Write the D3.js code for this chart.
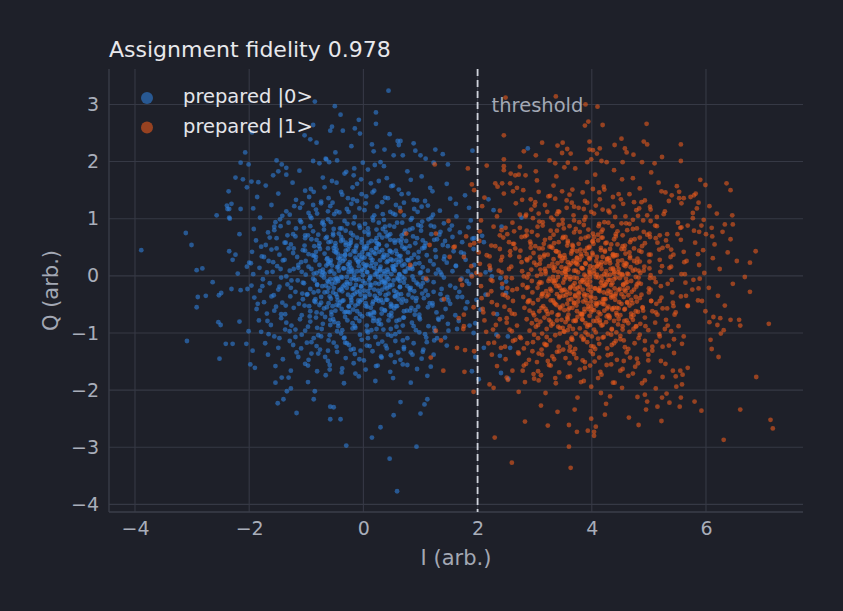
<!DOCTYPE html>
<html>
<head>
<meta charset="utf-8">
<script src="https://cdn.jsdelivr.net/npm/d3@7"></script>
<style>
  html, body { margin: 0; padding: 0; background: #1e2029; }
  svg { display: block; font-family: "DejaVu Sans", sans-serif; }
</style>
</head>
<body>
<div id="chart"></div>
<script>
// tick values
const xTicks = [-4, -2, 0, 2, 4, 6];
const yTicks = [-4, -3, -2, -1, 0, 1, 2, 3];
const threshold = 2;
const seriesNames = ["prepared |0>", "prepared |1>"];
const title = "Assignment fidelity 0.978";

// prepared |0> : isolated points
const zeroTail = [[-3.89,0.45],[-3.11,0.75],[-3.01,0.54],[-2.92,0.10],[-2.82,0.13],[-2.64,-0.11],[-2.90,-0.37],[-2.76,-0.35],[-2.92,-0.55],[-2.53,-0.34],[-2.49,-0.30],[-2.54,-0.81],[-2.50,-0.86],[-3.09,-1.14],[-2.52,-1.45],[-2.41,-1.19],[-2.29,-1.19],[-2.57,1.06],[-2.36,1.48],[-2.31,1.26],[-2.38,1.17],[-2.07,2.16],[-2.15,1.98],[-2.01,1.95],[-2.24,1.72],[-2.11,1.69],[-2.04,1.55],[-1.96,1.65],[-1.84,1.64],[-2.34,1.00],[-2.17,0.73],[-2.24,0.37],[-2.35,0.43],[-2.29,0.28],[-2.20,0.04],[-2.04,0.16],[-2.00,0.23],[-2.31,-0.23],[-2.15,-0.25],[-2.03,-0.23],[-2.17,-0.80],[-2.01,-0.97],[-2.05,-1.19],[-1.98,-1.55],[-1.90,-1.61],[-1.94,-1.31],[-1.50,-2.23],[-1.40,-2.16],[-1.17,-2.40],[-0.58,-2.51],[-0.40,-2.51],[-0.58,-2.29],[-0.52,-2.30],[-0.30,-2.97],[0.15,-2.83],[0.30,-2.65],[0.46,-3.20],[0.93,-2.99],[0.53,-2.44],[1.00,-2.41],[1.07,-2.25],[1.12,-2.16],[0.65,-2.21],[-0.87,-2.16],[-0.85,-2.02],[-1.34,-2.02],[-1.27,-1.97],[-1.54,-1.87],[-1.43,-1.78],[0.59,-3.77],[0.44,3.24],[-0.50,2.97],[-0.85,3.05],[-0.40,2.82],[0.22,2.86],[0.22,2.66],[-0.08,2.73],[-0.15,2.58],[-0.06,2.49],[-0.36,2.54],[-0.55,2.61],[-0.58,2.54],[-0.88,2.64],[-1.03,2.46],[-0.93,2.39],[-0.82,2.33],[-1.95,2.51],[0.46,2.48],[0.60,2.36],[0.65,2.36],[0.62,2.29],[0.15,2.30],[0.18,2.18],[0.37,2.21],[0.53,2.11],[0.69,2.11],[0.88,2.32],[0.91,2.19],[1.00,2.11],[1.09,2.05],[1.26,2.21],[1.39,2.13],[1.91,2.19],[1.48,1.95],[1.23,1.98],[-0.49,2.16],[-0.66,2.05],[-0.46,2.02],[-0.60,1.99],[-0.21,2.27],[-0.16,1.88],[-0.30,1.82],[-0.17,1.76],[-0.01,1.98],[0.20,1.94],[0.36,1.92],[0.30,1.99],[-0.88,2.01],[-0.65,2.04],[-0.77,1.97],[-1.52,2.02],[-1.43,1.95],[-1.35,1.89],[-1.35,1.77],[-1.49,1.83],[-2.35,1.17],[-2.39,1.23],[-2.35,1.02],[-2.15,1.17],
  [2.88,2.23],[2.19,1.34],[2.28,1.15],[2.77,1.02],[2.42,0.86],[2.08,0.70],[2.11,0.59],[1.94,0.66],[2.22,0.10],[2.25,-0.01],[2.14,0.06],[2.40,-0.04],[2.50,-0.10],[2.43,-0.21],[2.50,-0.30],[2.14,-0.33],[1.98,-0.42],[2.05,-0.59],[1.96,-0.83],[1.93,-1.00],[2.34,-0.67],[2.33,-1.03],[2.53,-1.06],[2.57,-1.26],[2.11,-1.26],[1.96,-1.42],[2.39,-1.40],[2.41,-1.70],[2.54,-1.80],[2.02,-1.81],[1.90,-1.67]];

// prepared |0> : main cloud, estimated
const zeroCore = [[-1.12,1.84],[-0.71,1.72],[-0.33,1.79],[0.08,1.86],[0.41,1.71],[0.77,1.83],[1.02,1.74],[-1.58,1.76],
  [-1.71,1.58],[-1.24,1.63],[-0.92,1.52],[-0.55,1.66],[-0.19,1.55],[0.13,1.62],[0.49,1.57],[0.83,1.68],[1.17,1.54],[1.46,1.61],[-0.04,1.69],[0.62,1.51],
  [-1.86,1.38],[-1.49,1.44],[-1.18,1.33],[-0.87,1.47],[-0.61,1.36],[-0.37,1.42],[-0.11,1.31],[0.16,1.46],[0.38,1.37],[0.67,1.43],[0.94,1.32],[1.21,1.48],[1.52,1.35],[1.78,1.41],[-0.74,1.30],[0.05,1.39],
  [-1.93,1.18],[-1.61,1.24],[-1.35,1.13],[-1.07,1.27],[-0.83,1.16],[-0.58,1.22],[-0.42,1.11],[-0.21,1.26],[0.02,1.15],[0.24,1.21],[0.47,1.12],[0.71,1.28],[0.89,1.17],[1.13,1.23],[1.34,1.14],[1.62,1.26],[1.85,1.19],[-0.96,1.10],[0.57,1.24],[-0.29,1.17],
  [-1.81,1.02],[-1.54,0.94],[-1.29,1.07],[-1.11,0.97],[-0.93,1.04],[-0.72,0.92],[-0.51,1.08],[-0.33,0.96],[-0.15,1.03],[0.03,0.91],[0.19,1.06],[0.36,0.98],[0.52,1.09],[0.68,0.93],[0.85,1.01],[1.03,0.95],[1.22,1.07],[1.41,0.92],[1.63,1.04],[1.88,0.97],[-0.62,0.99],[0.27,0.93],[-1.42,1.05],[1.14,0.99],
  [-1.92,0.82],[-1.67,0.76],[-1.45,0.87],[-1.23,0.73],[-1.04,0.84],[-0.88,0.78],[-0.69,0.89],[-0.53,0.71],[-0.38,0.83],[-0.22,0.75],[-0.07,0.88],[0.09,0.72],[0.23,0.81],[0.39,0.77],[0.54,0.86],[0.71,0.74],[0.86,0.83],[1.01,0.79],[1.18,0.88],[1.33,0.72],[1.51,0.81],[1.69,0.76],[1.84,0.85],[-0.31,0.79],[0.47,0.73],[-0.97,0.71],[0.96,0.89],[-1.56,0.80],
  [-1.88,0.62],[-1.71,0.54],[-1.52,0.66],[-1.36,0.58],[-1.19,0.69],[-1.03,0.53],[-0.91,0.64],[-0.77,0.57],[-0.64,0.68],[-0.49,0.52],[-0.36,0.63],[-0.24,0.56],[-0.11,0.67],[0.01,0.51],[0.14,0.61],[0.27,0.55],[0.41,0.69],[0.55,0.58],[0.67,0.64],[0.81,0.52],[0.94,0.66],[1.09,0.57],[1.24,0.63],[1.39,0.54],[1.56,0.68],[1.73,0.59],[1.91,0.65],[-0.57,0.60],[0.33,0.67],[-1.27,0.55],[0.75,0.61],[-0.03,0.58],
  [-1.95,0.42],[-1.78,0.34],[-1.61,0.46],[-1.47,0.37],[-1.31,0.48],[-1.16,0.33],[-1.02,0.44],[-0.89,0.36],[-0.76,0.47],[-0.63,0.31],[-0.51,0.43],[-0.39,0.35],[-0.27,0.46],[-0.14,0.32],[-0.02,0.41],[0.11,0.37],[0.22,0.49],[0.34,0.33],[0.46,0.44],[0.59,0.38],[0.72,0.47],[0.84,0.31],[0.97,0.42],[1.11,0.36],[1.26,0.45],[1.42,0.34],[1.58,0.43],[1.76,0.39],[1.93,0.47],[-0.83,0.42],[0.05,0.48],[0.63,0.34],[-0.45,0.39],[1.03,0.48],[-1.23,0.40],[0.28,0.42],
  [-1.97,0.22],[-1.82,0.14],[-1.66,0.26],[-1.51,0.17],[-1.38,0.28],[-1.22,0.12],[-1.09,0.24],[-0.96,0.16],[-0.84,0.27],[-0.71,0.11],[-0.58,0.23],[-0.46,0.15],[-0.33,0.29],[-0.21,0.13],[-0.09,0.25],[0.04,0.18],[0.16,0.28],[0.29,0.12],[0.41,0.24],[0.53,0.16],[0.66,0.27],[0.78,0.13],[0.91,0.21],[1.04,0.15],[1.17,0.26],[1.31,0.11],[1.46,0.23],[1.62,0.17],[1.79,0.28],[1.94,0.19],[-0.65,0.18],[0.22,0.21],[-0.27,0.20],[0.72,0.20],[-1.14,0.19],[0.48,0.29],[-0.02,0.11],[1.23,0.20],
  [-1.93,0.03],[-1.76,-0.06],[-1.59,0.07],[-1.44,-0.03],[-1.29,0.09],[-1.15,-0.08],[-1.01,0.02],[-0.88,-0.05],[-0.76,0.08],[-0.63,-0.09],[-0.51,0.04],[-0.39,-0.02],[-0.26,0.06],[-0.13,-0.07],[-0.01,0.01],[0.12,-0.04],[0.24,0.08],[0.37,-0.09],[0.49,0.03],[0.61,-0.06],[0.74,0.07],[0.86,-0.01],[0.99,0.05],[1.12,-0.08],[1.27,0.04],[1.41,-0.03],[1.56,0.08],[1.72,-0.05],[1.89,0.02],[-0.45,-0.06],[0.31,0.00],[-0.82,0.05],[0.68,-0.02],[-0.19,0.09],[1.05,-0.04],[-1.35,-0.01],[0.06,0.07],[0.55,0.09],[-0.69,-0.03],[1.35,0.06],
  [-1.96,-0.17],[-1.81,-0.26],[-1.64,-0.13],[-1.49,-0.24],[-1.33,-0.15],[-1.19,-0.28],[-1.06,-0.12],[-0.93,-0.23],[-0.81,-0.16],[-0.68,-0.29],[-0.55,-0.14],[-0.42,-0.25],[-0.29,-0.11],[-0.17,-0.22],[-0.04,-0.18],[0.08,-0.27],[0.21,-0.13],[0.33,-0.24],[0.46,-0.16],[0.58,-0.29],[0.71,-0.12],[0.83,-0.21],[0.96,-0.15],[1.09,-0.26],[1.23,-0.11],[1.37,-0.23],[1.52,-0.17],[1.68,-0.28],[1.85,-0.14],[-0.36,-0.19],[0.14,-0.16],[-0.87,-0.29],[0.64,-0.20],[-0.11,-0.28],[1.01,-0.19],[-1.27,-0.21],[0.39,-0.12],[-0.61,-0.21],[0.89,-0.27],[-0.23,-0.14],
  [-1.91,-0.38],[-1.74,-0.46],[-1.57,-0.34],[-1.42,-0.47],[-1.28,-0.36],[-1.13,-0.49],[-0.99,-0.33],[-0.86,-0.44],[-0.74,-0.37],[-0.61,-0.48],[-0.48,-0.32],[-0.35,-0.43],[-0.22,-0.38],[-0.09,-0.49],[0.03,-0.35],[0.17,-0.45],[0.29,-0.31],[0.42,-0.42],[0.55,-0.36],[0.67,-0.47],[0.79,-0.33],[0.92,-0.44],[1.06,-0.39],[1.21,-0.48],[1.35,-0.32],[1.49,-0.43],[1.65,-0.37],[1.82,-0.46],[-0.57,-0.40],[0.24,-0.39],[-1.06,-0.41],[0.48,-0.49],[-0.15,-0.31],[0.86,-0.38],[-0.41,-0.47],[1.13,-0.34],[-0.03,-0.42],[0.62,-0.41],
  [-1.87,-0.58],[-1.69,-0.66],[-1.53,-0.54],[-1.37,-0.67],[-1.22,-0.56],[-1.08,-0.69],[-0.95,-0.53],[-0.82,-0.64],[-0.69,-0.57],[-0.56,-0.68],[-0.43,-0.52],[-0.31,-0.63],[-0.18,-0.59],[-0.06,-0.67],[0.07,-0.54],[0.19,-0.65],[0.32,-0.58],[0.45,-0.69],[0.57,-0.53],[0.71,-0.62],[0.84,-0.56],[0.98,-0.68],[1.13,-0.55],[1.28,-0.64],[1.44,-0.58],[1.61,-0.69],[1.79,-0.57],[-0.25,-0.54],[0.38,-0.61],[-0.77,-0.51],[0.13,-0.69],[0.91,-0.60],[-0.49,-0.61],[1.21,-0.52],
  [-1.83,-0.78],[-1.62,-0.86],[-1.44,-0.74],[-1.26,-0.87],[-1.11,-0.76],[-0.97,-0.89],[-0.83,-0.73],[-0.71,-0.84],[-0.58,-0.77],[-0.44,-0.88],[-0.32,-0.72],[-0.19,-0.83],[-0.07,-0.79],[0.06,-0.87],[0.18,-0.74],[0.31,-0.85],[0.44,-0.78],[0.58,-0.89],[0.71,-0.73],[0.85,-0.82],[0.99,-0.76],[1.14,-0.88],[1.31,-0.75],[1.48,-0.84],[1.67,-0.79],[1.86,-0.87],[-0.51,-0.81],[0.24,-0.79],[-0.93,-0.80],[0.63,-0.77],
  [-1.79,-0.98],[-1.56,-1.06],[-1.37,-0.94],[-1.19,-1.07],[-1.02,-0.96],[-0.87,-1.09],[-0.73,-0.93],[-0.59,-1.04],[-0.46,-0.97],[-0.33,-1.08],[-0.19,-0.92],[-0.06,-1.03],[0.08,-0.99],[0.21,-1.07],[0.35,-0.94],[0.49,-1.05],[0.63,-0.98],[0.77,-1.09],[0.92,-0.95],[1.08,-1.02],[1.25,-0.97],[1.43,-1.08],[1.64,-0.93],[-0.39,-1.01],[0.14,-0.95],[0.56,-1.02],
  [-1.72,-1.18],[-1.49,-1.26],[-1.29,-1.14],[-1.09,-1.27],[-0.91,-1.16],[-0.76,-1.29],[-0.61,-1.13],[-0.47,-1.24],[-0.32,-1.17],[-0.17,-1.28],[-0.03,-1.12],[0.11,-1.23],[0.26,-1.19],[0.41,-1.27],[0.56,-1.14],[0.71,-1.25],[0.88,-1.18],[1.05,-1.29],[1.24,-1.13],[1.46,-1.22],[-0.25,-1.21],[0.33,-1.15],
  [-1.67,-1.38],[-1.41,-1.46],[-1.17,-1.34],[-0.96,-1.47],[-0.79,-1.36],[-0.62,-1.49],[-0.46,-1.33],[-0.31,-1.44],[-0.15,-1.37],[0.01,-1.48],[0.16,-1.32],[0.32,-1.43],[0.48,-1.39],[0.65,-1.47],[0.83,-1.34],[1.02,-1.45],[1.23,-1.38],[-0.05,-1.31],
  [-1.54,-1.58],[-1.27,-1.66],[-1.02,-1.54],[-0.81,-1.67],[-0.59,-1.56],[-0.38,-1.69],[-0.17,-1.53],[0.04,-1.64],[0.25,-1.57],[0.47,-1.68],[0.69,-1.55],[0.94,-1.63],[1.18,-1.59],
  [-1.31,-1.78],[-0.97,-1.86],[-0.66,-1.74],[-0.34,-1.88],[-0.08,-1.76],[0.21,-1.84],[0.52,-1.79],[0.83,-1.87],[1.12,-1.75]];

// prepared |0> : ring between one and two units out, estimated
const zeroRing = [[1.62,0.18],[1.48,0.52],[1.71,0.41],[1.35,0.77],[1.55,0.88],[1.19,1.02],[1.29,0.64],[1.08,1.31],[0.95,1.12],[0.79,1.44],[0.64,1.19],[0.52,1.58],[0.34,1.08],[0.19,1.49],[0.04,1.27],[-0.11,1.61],[-0.26,1.12],[-0.39,1.47],[-0.54,1.28],[-0.68,1.55],[-0.81,1.09],[-0.95,1.38],[-1.09,0.94],[-1.21,1.22],[-1.33,0.71],[-1.46,0.99],[-1.52,0.48],[-1.64,0.67],[-1.58,0.24],[-1.74,0.33],[-1.45,0.12],[-1.69,0.06],
  [1.83,0.08],[1.41,0.29],[1.24,0.86],[1.02,1.21],[0.88,1.33],[0.71,1.06],[0.43,1.36],[0.27,1.66],[-0.03,1.43],[-0.18,1.34],[-0.47,1.63],[-0.62,1.13],[-0.88,1.24],[-1.02,1.49],[-1.18,0.83],[-1.38,0.58],[-1.56,0.86],[-1.79,0.51],
  [1.61,-0.21],[1.52,-0.49],[1.73,-0.37],[1.38,-0.72],[1.49,-0.96],[1.24,-0.91],[1.11,-1.16],[0.98,-0.99],[0.86,-1.38],[0.69,-1.13],[0.55,-1.51],[0.39,-1.22],[0.22,-1.58],[0.08,-1.09],[-0.07,-1.46],[-0.22,-1.29],[-0.37,-1.62],[-0.52,-1.17],[-0.67,-1.42],[-0.82,-1.23],[-0.97,-1.57],[-1.08,-1.03],[-1.23,-1.21],[-1.35,-0.82],[-1.47,-1.09],[-1.56,-0.61],[-1.68,-0.79],[-1.61,-0.36],[-1.77,-0.18],[-1.47,-0.19],[-1.85,-0.49],
  [1.81,-0.09],[1.37,-0.42],[1.29,-1.09],[1.04,-1.33],[0.77,-1.56],[0.61,-1.34],[0.31,-1.41],[-0.14,-1.71],[-0.29,-1.18],[-0.59,-1.64],[-0.74,-1.06],[-0.91,-1.36],[-1.14,-1.42],[-1.29,-0.97],[-1.44,-0.67],[-1.66,-1.02]];

// prepared |0> : dense centre, estimated
const zeroDense = [[-0.93,0.87],[-0.71,0.95],[-0.52,0.82],[-0.28,0.91],[-0.06,0.84],[0.17,0.97],[0.38,0.86],[0.59,0.93],[0.81,0.81],[-1.02,0.66],[-0.79,0.72],[-0.61,0.59],[-0.43,0.74],[-0.22,0.63],[0.02,0.77],[0.21,0.61],[0.44,0.71],[0.66,0.58],[0.87,0.69],[1.04,0.62],
  [-1.06,0.45],[-0.86,0.52],[-0.68,0.39],[-0.49,0.57],[-0.31,0.44],[-0.12,0.53],[0.08,0.38],[0.27,0.55],[0.47,0.43],[0.68,0.51],[0.89,0.37],[1.07,0.49],
  [-1.01,0.26],[-0.83,0.33],[-0.62,0.21],[-0.44,0.31],[-0.24,0.18],[-0.04,0.29],[0.15,0.23],[0.36,0.32],[0.57,0.19],[0.77,0.28],[0.98,0.22],
  [-1.08,0.07],[-0.91,0.12],[-0.73,0.01],[-0.56,0.09],[-0.35,0.13],[-0.16,0.02],[0.03,0.14],[0.23,0.04],[0.42,0.11],[0.63,0.02],[0.82,0.13],[1.01,0.06],
  [-1.04,-0.13],[-0.85,-0.08],[-0.66,-0.17],[-0.47,-0.04],[-0.28,-0.14],[-0.08,-0.06],[0.11,-0.15],[0.31,-0.07],[0.51,-0.16],[0.72,-0.05],[0.93,-0.12],
  [-0.98,-0.32],[-0.79,-0.27],[-0.59,-0.36],[-0.39,-0.23],[-0.19,-0.34],[0.01,-0.26],[0.20,-0.35],[0.41,-0.22],[0.61,-0.33],[0.82,-0.25],[1.03,-0.31],
  [-1.03,-0.52],[-0.84,-0.46],[-0.64,-0.55],[-0.45,-0.43],[-0.26,-0.53],[-0.06,-0.45],[0.13,-0.56],[0.34,-0.47],[0.54,-0.57],[0.75,-0.44],[0.96,-0.54],
  [-0.94,-0.71],[-0.73,-0.66],[-0.53,-0.76],[-0.33,-0.64],[-0.13,-0.74],[0.08,-0.67],[0.28,-0.77],[0.49,-0.65],[0.70,-0.73],[0.90,-0.68],
  [-0.81,-0.91],[-0.58,-0.86],[-0.37,-0.95],[-0.15,-0.88],[0.06,-0.96],[0.27,-0.84],[0.48,-0.93],[0.69,-0.87],
  [-0.62,0.48],[-0.39,0.61],[-0.14,0.42],[0.09,0.58],[0.33,0.45],[0.54,0.62],[-0.57,0.27],[-0.32,0.36],[-0.09,0.24],[0.18,0.41],[0.43,0.26],[0.65,0.35],[-0.68,0.04],[-0.44,0.16],[-0.21,0.07],[0.06,0.19],[0.29,0.09],[0.51,0.17],[-0.61,-0.11],[-0.37,-0.03],[-0.13,-0.16],[0.12,-0.01],[0.37,-0.12],[0.60,-0.04],[-0.53,-0.29],[-0.29,-0.21],[-0.05,-0.33],[0.19,-0.24],[0.44,-0.31],[0.64,-0.19],[-0.47,-0.51],[-0.21,-0.42],[0.04,-0.53],[0.27,-0.44],[0.50,-0.52],[-0.27,-0.63],[0.12,-0.66],[0.37,-0.60],[-0.02,0.33],[-0.25,0.52],[0.23,0.66],[0.41,-0.02],
  [-1.41,0.27],[-1.36,-0.52],[-1.31,0.93],[-1.26,-0.08],[-1.22,0.48],[-1.19,-0.94],[-1.14,0.14],[-1.11,1.19],[-1.07,-0.31],[-1.02,0.71],[-0.99,-1.17],[-0.96,0.38],[-0.93,-0.62],[-0.91,1.01],[-0.87,0.04],[-0.84,-0.41],[-0.82,0.63],[-0.79,-1.04],[-0.77,0.19],[-0.74,1.27],[-0.72,-0.18],[-0.69,0.81],[-0.67,-0.72],[-0.64,0.29],[-0.62,-1.31],[-0.59,0.07],[-0.57,0.94],[-0.54,-0.53],[-0.52,0.49],[-0.49,-0.12],[-0.47,1.13],[-0.44,-0.83],[-0.42,0.22],[-0.39,0.68],[-0.37,-0.27],[-0.34,-1.09],[-0.32,0.37],[-0.29,-0.02],[-0.27,1.36],[-0.24,-0.64],[-0.22,0.58],[-0.19,-0.23],[-0.17,0.92],[-0.14,-0.91],[-0.12,0.28],[-0.09,-0.43],[-0.07,1.18],[-0.04,0.08],[-0.02,-0.71],[0.01,0.47],[0.03,-0.13],[0.06,-1.22],[0.08,0.83],[0.11,-0.33],[0.13,0.17],[0.16,1.02],[0.18,-0.63],[0.21,0.39],[0.23,-0.93],[0.26,-0.02],[0.28,0.72],[0.31,-0.42],[0.33,1.29],[0.36,0.08],[0.38,-0.19],[0.41,0.53],[0.43,-1.03],[0.46,0.88],[0.48,-0.54],[0.51,0.27],[0.53,-0.08],[0.56,1.07],[0.58,-0.79],[0.61,0.62],[0.63,0.03],[0.66,-0.32],[0.68,0.18],[0.71,-1.28],[0.73,0.79],[0.76,-0.61],[0.78,0.41],[0.81,-0.22],[0.83,0.98],[0.86,0.12],[0.88,-0.88],[0.91,0.57],[0.93,-0.39],[0.96,0.32],[0.98,-0.73],[1.01,0.87],[1.04,-0.13],[1.07,0.52],[1.10,-1.08],[1.13,0.09],[1.16,-0.48],[1.19,0.73],[1.23,-0.28],[1.27,0.33],[1.32,-0.77],[1.37,0.02],[1.43,0.61],[1.47,-0.37],
  [-0.86,0.35],[-0.81,-0.15],[-0.78,0.52],[-0.74,-0.47],[-0.71,0.06],[-0.66,0.66],[-0.63,-0.28],[-0.61,0.25],[-0.56,-0.63],[-0.53,0.74],[-0.51,-0.06],[-0.48,0.41],[-0.46,-0.37],[-0.43,0.09],[-0.41,0.83],[-0.38,-0.58],[-0.36,0.26],[-0.33,-0.16],[-0.31,0.54],[-0.28,-0.78],[-0.26,0.12],[-0.23,0.37],[-0.21,-0.47],[-0.18,0.71],[-0.16,-0.04],[-0.13,0.49],[-0.11,-0.62],[-0.08,0.17],[-0.06,-0.27],[-0.03,0.64],[-0.01,-0.09],[0.02,0.32],[0.04,-0.48],[0.07,0.06],[0.09,0.76],[0.12,-0.21],[0.14,0.45],[0.17,-0.79],[0.19,0.14],[0.22,-0.42],[0.24,0.57],[0.27,-0.14],[0.29,0.27],[0.32,-0.66],[0.34,0.82],[0.37,0.04],[0.39,-0.34],[0.42,0.36],[0.44,-0.06],[0.47,0.63],[0.49,-0.71],[0.52,0.12],[0.54,-0.26],[0.57,0.44],[0.59,-0.53],[0.62,0.24],[0.64,-0.09],[0.67,0.71],[0.69,-0.41],[0.72,0.08],[0.74,0.49],[0.77,-0.18],[0.79,0.27],[0.82,-0.61],[0.85,0.16],[0.88,-0.07],
  [-0.55,0.18],[-0.52,-0.21],[-0.47,0.46],[-0.44,-0.09],[-0.41,0.29],[-0.37,-0.44],[-0.34,0.13],[-0.31,0.58],[-0.27,-0.33],[-0.24,0.24],[-0.21,-0.06],[-0.17,0.43],[-0.14,-0.52],[-0.11,0.08],[-0.07,0.36],[-0.04,-0.19],[0.00,0.21],[0.03,-0.38],[0.06,0.52],[0.10,-0.07],[0.13,0.31],[0.16,-0.49],[0.20,0.02],[0.23,0.48],[0.26,-0.26],[0.30,0.16],[0.33,-0.11],[0.36,0.37],[0.40,-0.42],[0.43,0.07],[0.46,-0.19],[0.50,0.41],[0.53,0.11],[0.56,-0.36],[-0.58,-0.06],[0.58,0.28]];

// prepared |1> : isolated points
const oneTail = [[2.49,3.12],[3.37,3.14],[3.89,3.00],[4.10,2.96],[3.94,2.70],[3.88,2.63],[4.19,2.64],[4.96,2.66],[2.46,2.46],[3.13,2.33],[3.40,2.28],[3.49,2.33],[3.57,2.22],[3.63,2.14],[3.48,2.15],[2.81,2.18],[3.02,2.11],[3.96,2.35],[3.96,2.21],[4.02,2.20],[4.14,2.23],[4.09,2.14],[3.99,2.04],[3.92,1.99],[4.40,2.29],[4.52,2.40],[4.58,2.23],[4.61,2.16],[4.73,2.12],[4.91,2.35],[4.97,2.30],[5.56,2.30],[5.23,2.08],[5.56,2.01],[2.46,2.04],[2.46,1.92],[2.16,1.93],[3.26,2.02],[3.36,1.97],[3.58,1.98],[3.52,1.90],[4.17,2.01],[4.26,1.99],[4.54,1.99],[4.88,1.99],[5.10,1.97],[5.90,1.68],[5.99,1.59],[6.36,1.62],[6.43,1.50],[6.06,1.22],[6.19,1.09],[6.46,1.06],[6.87,0.43],[6.77,0.23],[6.54,0.26],[6.29,0.77],[6.47,0.90],[6.33,0.90],[6.43,0.64],[5.96,0.98],[6.10,0.84],[5.92,0.88],[5.88,0.77],[6.00,0.73],[6.11,0.69],[5.68,0.88],[5.57,0.85],[5.77,1.10],[5.87,1.28],[5.73,1.38],[5.82,1.44],[5.61,1.36],[5.29,1.46],[5.53,1.47],[5.40,1.41],[5.35,1.31],[2.74,1.91],[2.84,1.76],[2.72,1.77],[2.58,1.79],[2.46,1.85],[2.35,1.56],[2.43,1.62],[2.57,1.62],[2.62,1.48],[2.80,1.50],
  [6.68,-0.02],[6.77,-0.28],[6.47,-0.14],[7.10,-0.84],[6.88,-1.77],[6.60,-2.34],[7.13,-2.52],[7.17,-2.67],[6.31,-2.87],[5.92,-2.36],[5.80,-2.20],[6.33,-0.52],[6.22,-1.42],[6.10,-1.28],[6.26,-1.01],[6.08,-1.12],[6.43,-0.77],[6.58,-0.77],[6.60,-0.87],[6.31,-0.95],[6.20,-0.86],[6.06,-0.81],[6.13,-0.72],[6.25,-0.74],[5.68,-1.61],[5.55,-1.66],[5.47,-1.76],[5.59,-1.73],[5.42,-1.66],[5.58,-1.90],[5.48,-1.94],[5.56,-2.13],[5.54,-2.29],[5.36,-2.22],[5.23,-2.13],[5.31,-2.06],[5.22,-2.54],[4.82,-2.61],[4.65,-2.48],[4.95,-2.34],[5.15,-2.29],[4.97,-2.20],[4.80,-2.12],[4.93,-2.08],[4.88,-1.88],[5.12,-1.97],[3.99,-2.50],[4.07,-2.64],[4.04,-2.73],[4.04,-2.80],[3.93,-2.71],[3.74,-2.73],[3.60,-2.61],[4.23,-2.43],[4.25,-2.24],[4.32,-2.11],[4.16,-2.05],[3.60,-2.99],[3.63,-3.36],[2.60,-3.27],[2.30,-2.83],[2.83,-2.55],[3.23,-2.62],[3.40,-2.38],[3.70,-2.34],[3.11,-2.27],[2.72,-2.03],[3.19,-2.05],[3.75,-2.13],[3.99,-1.94],[4.53,-1.96],[4.40,-1.87],[2.21,-1.90],[2.28,-1.96],[2.99,-1.80],[3.07,-1.83],[2.79,-1.66],[2.53,-1.82],
  [5.95,0.45],[6.12,0.31],[6.24,0.12],[5.97,0.05],[6.38,0.41],[6.05,-0.21],[6.21,-0.35],[5.93,-0.44],[5.99,-0.62],[6.15,0.55],
  [1.25,1.95],[1.83,1.88],[1.94,1.50],[1.90,1.60],[0.65,1.13],[0.75,0.74],[1.27,0.74],[1.49,0.96],[1.58,0.50],[1.80,0.69],[1.87,0.54],[1.94,0.57],[1.51,0.33],[1.76,0.33],[1.89,0.17],[0.82,0.19],[1.10,-0.05],[1.70,-0.07],[1.73,-0.16],[1.90,-0.01],[1.98,0.05],[1.41,-0.41],[1.93,-0.55],[1.76,-0.68],[1.67,-0.74],[1.27,-0.96],[1.36,-1.13],[1.76,-0.88],[1.75,-0.93],[1.64,-1.26],[1.78,-1.30],[1.94,-1.32],[1.18,-1.43],[1.40,-1.66],[1.77,-1.68],[1.93,-2.03],[1.60,0.51],[1.16,0.54]];

// prepared |1> : main cloud, estimated
const oneCore = [[3.02,1.83],[3.38,1.74],[3.71,1.88],[4.06,1.77],[4.39,1.85],[4.72,1.71],[5.04,1.81],[2.66,1.76],
  [2.31,1.62],[2.69,1.54],[3.04,1.67],[3.33,1.58],[3.66,1.51],[3.92,1.64],[4.21,1.56],[4.53,1.69],[4.84,1.53],[5.17,1.63],[5.49,1.57],[4.02,1.52],
  [2.12,1.37],[2.46,1.44],[2.78,1.33],[3.07,1.47],[3.36,1.35],[3.61,1.42],[3.88,1.31],[4.13,1.46],[4.37,1.38],[4.66,1.43],[4.93,1.32],[5.22,1.48],[5.53,1.36],[5.79,1.41],[3.24,1.39],[4.51,1.34],
  [2.08,1.22],[2.39,1.14],[2.67,1.27],[2.94,1.16],[3.18,1.24],[3.43,1.12],[3.65,1.28],[3.86,1.17],[4.07,1.23],[4.31,1.11],[4.55,1.26],[4.78,1.15],[5.02,1.21],[5.28,1.13],[5.57,1.27],[5.84,1.18],[3.01,1.29],[4.19,1.16],[3.56,1.19],[4.87,1.29],
  [2.06,0.97],[2.34,1.04],[2.61,0.93],[2.85,1.07],[3.08,0.95],[3.29,1.02],[3.49,0.91],[3.68,1.06],[3.87,0.98],[4.04,1.09],[4.22,0.94],[4.41,1.03],[4.60,0.92],[4.81,1.05],[5.03,0.96],[5.26,1.08],[5.51,0.93],[5.77,1.01],[3.39,1.08],[4.13,0.91],[2.97,1.01],[4.72,0.98],[3.78,0.94],[5.14,1.03],
  [2.04,0.78],[2.28,0.86],[2.52,0.73],[2.74,0.84],[2.95,0.77],[3.14,0.88],[3.33,0.72],[3.51,0.83],[3.69,0.76],[3.86,0.89],[4.02,0.74],[4.19,0.81],[4.36,0.87],[4.54,0.71],[4.72,0.82],[4.91,0.77],[5.11,0.88],[5.32,0.73],[5.55,0.84],[5.79,0.79],[3.42,0.89],[3.94,0.81],[4.45,0.78],[2.86,0.71],[5.01,0.74],[3.61,0.87],[4.11,0.72],[2.42,0.80],
  [2.03,0.61],[2.24,0.53],[2.45,0.67],[2.64,0.56],[2.83,0.69],[3.01,0.52],[3.18,0.63],[3.34,0.57],[3.50,0.68],[3.66,0.54],[3.81,0.65],[3.96,0.51],[4.11,0.62],[4.26,0.58],[4.42,0.69],[4.58,0.53],[4.75,0.64],[4.93,0.57],[5.12,0.66],[5.33,0.52],[5.56,0.63],[5.81,0.58],[3.26,0.51],[3.89,0.67],[4.34,0.55],[2.92,0.60],[4.67,0.59],[3.58,0.61],[4.03,0.56],[5.02,0.68],[2.55,0.59],[4.19,0.67],
  [2.02,0.41],[2.21,0.34],[2.39,0.47],[2.57,0.36],[2.75,0.44],[2.92,0.32],[3.08,0.48],[3.23,0.37],[3.38,0.43],[3.53,0.31],[3.67,0.46],[3.81,0.38],[3.95,0.49],[4.09,0.33],[4.23,0.42],[4.37,0.36],[4.52,0.47],[4.67,0.31],[4.83,0.44],[5.00,0.37],[5.18,0.46],[5.38,0.33],[5.61,0.42],[5.86,0.38],[3.31,0.49],[3.74,0.32],[4.16,0.45],[4.59,0.39],[2.98,0.40],[3.45,0.35],[3.88,0.44],[4.30,0.31],[4.74,0.48],[3.16,0.34],[4.01,0.40],[2.66,0.48],
  [2.04,0.21],[2.22,0.13],[2.41,0.27],[2.59,0.16],[2.77,0.24],[2.94,0.11],[3.10,0.28],[3.25,0.17],[3.40,0.22],[3.54,0.12],[3.68,0.26],[3.82,0.14],[3.96,0.29],[4.10,0.18],[4.24,0.23],[4.38,0.11],[4.53,0.27],[4.68,0.15],[4.84,0.25],[5.01,0.13],[5.19,0.28],[5.39,0.16],[5.62,0.24],[5.88,0.19],[3.33,0.29],[3.75,0.20],[4.17,0.12],[4.61,0.21],[3.03,0.19],[3.47,0.15],[3.89,0.22],[4.31,0.27],[4.76,0.11],[3.18,0.12],[4.03,0.15],[2.86,0.29],[3.61,0.19],[4.45,0.19],
  [2.05,0.02],[2.23,-0.07],[2.42,0.06],[2.60,-0.04],[2.78,0.08],[2.95,-0.09],[3.11,0.03],[3.26,-0.05],[3.41,0.07],[3.55,-0.02],[3.69,0.09],[3.83,-0.08],[3.97,0.04],[4.11,-0.03],[4.25,0.08],[4.39,-0.06],[4.54,0.01],[4.69,-0.09],[4.85,0.05],[5.02,-0.04],[5.20,0.07],[5.40,-0.07],[5.63,0.03],[5.89,-0.05],[3.34,-0.09],[3.76,0.06],[4.18,-0.08],[4.62,0.04],[3.04,0.00],[3.48,0.05],[3.90,-0.01],[4.32,0.02],[4.77,-0.02],[3.19,0.08],[4.04,0.09],[2.87,-0.03],[3.62,-0.06],[4.46,0.06],[3.97,-0.10],[4.91,0.09],
  [2.06,-0.18],[2.24,-0.27],[2.43,-0.14],[2.61,-0.25],[2.79,-0.16],[2.96,-0.29],[3.12,-0.12],[3.27,-0.23],[3.42,-0.17],[3.56,-0.28],[3.70,-0.13],[3.84,-0.24],[3.98,-0.19],[4.12,-0.26],[4.26,-0.11],[4.40,-0.22],[4.55,-0.15],[4.70,-0.28],[4.86,-0.14],[5.03,-0.24],[5.21,-0.18],[5.41,-0.29],[5.64,-0.12],[5.87,-0.22],[3.35,-0.13],[3.77,-0.29],[4.19,-0.17],[4.63,-0.21],[3.05,-0.21],[3.49,-0.25],[3.91,-0.14],[4.33,-0.28],[4.78,-0.19],[3.20,-0.27],[4.05,-0.22],[2.88,-0.20],[3.63,-0.20],[4.47,-0.25],[2.52,-0.21],[5.12,-0.11],[3.86,-0.11],[4.21,-0.29],
  [2.07,-0.39],[2.25,-0.46],[2.44,-0.33],[2.62,-0.44],[2.80,-0.37],[2.97,-0.48],[3.13,-0.32],[3.28,-0.43],[3.43,-0.38],[3.57,-0.49],[3.71,-0.34],[3.85,-0.45],[3.99,-0.36],[4.13,-0.47],[4.27,-0.31],[4.41,-0.42],[4.56,-0.37],[4.71,-0.48],[4.87,-0.33],[5.04,-0.44],[5.22,-0.38],[5.42,-0.47],[5.65,-0.35],[5.86,-0.43],[3.36,-0.49],[3.78,-0.31],[4.20,-0.41],[4.64,-0.34],[3.06,-0.42],[3.50,-0.35],[3.92,-0.48],[4.34,-0.38],[4.79,-0.45],[3.21,-0.36],[4.06,-0.39],[2.89,-0.44],[3.64,-0.41],[4.48,-0.46],[2.53,-0.38],[5.13,-0.49],[3.87,-0.32],[4.22,-0.50],
  [2.09,-0.58],[2.28,-0.66],[2.47,-0.54],[2.65,-0.67],[2.82,-0.56],[2.99,-0.69],[3.15,-0.53],[3.30,-0.64],[3.45,-0.57],[3.59,-0.68],[3.73,-0.52],[3.87,-0.63],[4.01,-0.59],[4.15,-0.67],[4.29,-0.54],[4.43,-0.65],[4.58,-0.58],[4.73,-0.69],[4.89,-0.55],[5.06,-0.62],[5.24,-0.57],[5.45,-0.68],[5.68,-0.53],[3.38,-0.51],[3.80,-0.66],[4.22,-0.61],[4.66,-0.52],[3.08,-0.62],[3.52,-0.60],[3.94,-0.54],[4.36,-0.59],[4.81,-0.63],[3.23,-0.67],[4.08,-0.52],[2.91,-0.61],[3.66,-0.56],[4.50,-0.69],[2.56,-0.60],[5.15,-0.68],[3.96,-0.70],
  [2.12,-0.78],[2.32,-0.86],[2.51,-0.74],[2.69,-0.87],[2.86,-0.76],[3.02,-0.89],[3.17,-0.73],[3.32,-0.84],[3.47,-0.77],[3.61,-0.88],[3.75,-0.72],[3.89,-0.83],[4.03,-0.79],[4.17,-0.87],[4.31,-0.74],[4.46,-0.85],[4.61,-0.78],[4.77,-0.89],[4.93,-0.73],[5.11,-0.82],[5.30,-0.77],[5.52,-0.88],[3.41,-0.89],[3.83,-0.76],[4.25,-0.81],[4.69,-0.72],[3.10,-0.80],[3.54,-0.81],[3.97,-0.86],[4.39,-0.79],[4.85,-0.84],[3.25,-0.77],[4.10,-0.73],[2.95,-0.83],[3.68,-0.79],[4.54,-0.88],
  [2.15,-0.98],[2.36,-1.06],[2.56,-0.94],[2.74,-1.07],[2.91,-0.96],[3.06,-1.09],[3.21,-0.93],[3.36,-1.04],[3.51,-0.97],[3.65,-1.08],[3.79,-0.92],[3.93,-1.03],[4.07,-0.99],[4.21,-1.07],[4.35,-0.94],[4.50,-1.05],[4.66,-0.98],[4.82,-1.09],[4.99,-0.95],[5.18,-1.02],[5.39,-0.97],[5.61,-1.06],[3.44,-0.91],[3.86,-1.10],[4.28,-1.01],[4.73,-0.93],[3.13,-1.01],[3.58,-0.95],[4.00,-1.06],[4.43,-0.99],[2.99,-1.03],[3.72,-1.01],
  [2.19,-1.18],[2.41,-1.26],[2.62,-1.14],[2.81,-1.27],[2.97,-1.16],[3.12,-1.29],[3.27,-1.13],[3.42,-1.24],[3.57,-1.17],[3.71,-1.28],[3.85,-1.12],[3.99,-1.23],[4.13,-1.19],[4.27,-1.27],[4.42,-1.14],[4.58,-1.25],[4.75,-1.18],[4.93,-1.29],[5.13,-1.15],[5.35,-1.22],[5.58,-1.19],[3.50,-1.29],[3.92,-1.16],[4.35,-1.21],[3.19,-1.21],[3.64,-1.11],[4.06,-1.28],[4.50,-1.11],
  [2.25,-1.38],[2.49,-1.46],[2.71,-1.34],[2.90,-1.47],[3.07,-1.36],[3.23,-1.49],[3.39,-1.33],[3.54,-1.44],[3.69,-1.37],[3.84,-1.48],[3.98,-1.32],[4.13,-1.43],[4.28,-1.39],[4.44,-1.47],[4.61,-1.34],[4.79,-1.45],[4.99,-1.38],[5.21,-1.49],[5.44,-1.35],[3.61,-1.31],[4.05,-1.50],[3.31,-1.41],
  [2.34,-1.58],[2.61,-1.66],[2.85,-1.54],[3.06,-1.67],[3.25,-1.56],[3.43,-1.69],[3.61,-1.53],[3.79,-1.64],[3.97,-1.57],[4.15,-1.68],[4.34,-1.55],[4.54,-1.63],[4.76,-1.59],[5.01,-1.68],[5.29,-1.54],[3.88,-1.51],
  [2.51,-1.78],[2.83,-1.86],[3.11,-1.74],[3.37,-1.88],[3.62,-1.76],[3.86,-1.84],[4.11,-1.79],[4.37,-1.87],[4.64,-1.75],[4.93,-1.83],[5.24,-1.77]];

// prepared |1> : ring between one and two units out, estimated
const oneRing = [[5.57,0.03],[5.43,0.37],[5.66,0.26],[5.30,0.62],[5.50,0.73],[5.14,0.87],[5.24,0.49],[5.03,1.16],[4.90,0.97],[4.74,1.29],[4.59,1.04],[4.47,1.43],[4.29,0.93],[4.14,1.34],[3.99,1.12],[3.84,1.46],[3.69,0.97],[3.56,1.32],[3.41,1.13],[3.27,1.40],[3.14,0.94],[3.00,1.23],[2.86,0.79],[2.74,1.07],[2.62,0.56],[2.49,0.84],[2.43,0.33],[2.31,0.52],[2.37,0.09],[2.21,0.18],[2.50,-0.03],[2.26,-0.09],
  [5.78,-0.07],[5.36,0.14],[5.19,0.71],[4.97,1.06],[4.83,1.18],[4.66,0.91],[4.38,1.21],[4.22,1.51],[3.92,1.28],[3.77,1.19],[3.48,1.48],[3.33,0.98],[3.07,1.09],[2.93,1.34],[2.77,0.68],[2.57,0.43],[2.39,0.71],[2.16,0.36],
  [5.56,-0.36],[5.47,-0.64],[5.68,-0.52],[5.33,-0.87],[5.44,-1.11],[5.19,-1.06],[5.06,-1.31],[4.93,-1.14],[4.81,-1.53],[4.64,-1.28],[4.50,-1.66],[4.34,-1.37],[4.17,-1.73],[4.03,-1.24],[3.88,-1.61],[3.73,-1.44],[3.58,-1.77],[3.43,-1.32],[3.28,-1.57],[3.13,-1.38],[2.98,-1.72],[2.87,-1.18],[2.72,-1.36],[2.60,-0.97],[2.48,-1.24],[2.39,-0.76],[2.27,-0.94],[2.34,-0.51],[2.18,-0.33],[2.48,-0.34],[2.10,-0.64],
  [5.76,-0.24],[5.32,-0.57],[5.24,-1.24],[4.99,-1.48],[4.72,-1.71],[4.56,-1.49],[4.26,-1.56],[3.81,-1.86],[3.66,-1.33],[3.36,-1.79],[3.21,-1.21],[3.04,-1.51],[2.81,-1.57],[2.66,-1.12],[2.51,-0.82],[2.29,-1.17]];

// prepared |1> : dense centre, estimated
const oneDense = [[3.05,0.71],[3.28,0.79],[3.49,0.66],[3.72,0.82],[3.94,0.69],[4.17,0.77],[4.39,0.64],[4.62,0.80],[4.84,0.67],
  [2.93,0.49],[3.16,0.56],[3.37,0.43],[3.58,0.58],[3.80,0.46],[4.01,0.60],[4.23,0.44],[4.45,0.55],[4.66,0.41],[4.88,0.52],
  [2.87,0.27],[3.09,0.33],[3.31,0.21],[3.52,0.36],[3.73,0.24],[3.95,0.31],[4.16,0.19],[4.38,0.34],[4.59,0.22],[4.80,0.30],[5.01,0.25],
  [2.89,0.03],[3.10,0.11],[3.32,-0.02],[3.53,0.08],[3.74,-0.04],[3.96,0.10],[4.17,-0.01],[4.39,0.07],[4.60,-0.05],[4.82,0.09],[5.03,0.01],
  [2.86,-0.21],[3.07,-0.14],[3.29,-0.26],[3.50,-0.12],[3.71,-0.23],[3.93,-0.16],[4.14,-0.27],[4.36,-0.13],[4.57,-0.24],[4.79,-0.15],[5.00,-0.22],
  [2.91,-0.43],[3.12,-0.36],[3.34,-0.47],[3.55,-0.34],[3.76,-0.45],[3.98,-0.38],[4.19,-0.49],[4.41,-0.35],[4.62,-0.46],[4.84,-0.39],[5.04,-0.44],
  [2.97,-0.65],[3.19,-0.58],[3.40,-0.69],[3.61,-0.56],[3.83,-0.67],[4.04,-0.60],[4.26,-0.71],[4.47,-0.57],[4.69,-0.66],[4.90,-0.61],
  [3.06,-0.86],[3.28,-0.80],[3.49,-0.91],[3.71,-0.78],[3.92,-0.89],[4.14,-0.82],[4.35,-0.93],[4.57,-0.79],[4.78,-0.88],
  [3.21,-1.07],[3.44,-1.01],[3.66,-1.12],[3.89,-0.99],[4.11,-1.10],[4.34,-1.03],[4.56,-1.13],
  [3.42,0.41],[3.67,0.52],[3.91,0.38],[4.16,0.49],[4.41,0.36],[3.35,0.15],[3.58,0.24],[3.83,0.13],[4.08,0.26],[4.33,0.12],[4.56,0.19],[3.31,-0.09],[3.55,0.02],[3.80,-0.11],[4.04,0.04],[4.29,-0.07],[4.53,0.03],[3.39,-0.32],[3.62,-0.22],[3.87,-0.35],[4.12,-0.24],[4.37,-0.36],[4.59,-0.27],[3.44,-0.55],[3.69,-0.47],[3.94,-0.58],[4.19,-0.46],[4.44,-0.56],[3.58,-0.76],[3.83,-0.69],[4.08,-0.79],[4.31,-0.71],[3.74,0.31],[4.24,-0.15],[3.97,-0.02],[3.71,-0.36],[4.27,0.30],[3.99,-0.45],
  [2.55,0.12],[2.60,-0.66],[2.64,0.78],[2.69,-0.23],[2.73,0.33],[2.76,-1.09],[2.81,-0.01],[2.84,1.04],[2.88,-0.46],[2.93,0.56],[2.96,-1.32],[2.99,0.23],[3.03,-0.77],[3.05,0.86],[3.09,-0.11],[3.12,-0.56],[3.14,0.48],[3.17,-1.19],[3.19,0.04],[3.22,1.12],[3.24,-0.33],[3.27,0.66],[3.29,-0.87],[3.32,0.14],[3.34,-1.46],[3.37,-0.08],[3.39,0.79],[3.42,-0.68],[3.44,0.34],[3.47,-0.27],[3.49,0.98],[3.52,-0.98],[3.54,0.07],[3.57,0.53],[3.59,-0.42],[3.62,-1.24],[3.64,0.22],[3.67,-0.17],[3.69,1.21],[3.72,-0.79],[3.74,0.43],[3.77,-0.38],[3.79,0.77],[3.82,-1.06],[3.84,0.13],[3.87,-0.58],[3.89,1.03],[3.92,-0.07],[3.94,-0.86],[3.97,0.32],[3.99,-0.28],[4.02,-1.37],[4.04,0.68],[4.07,-0.48],[4.09,0.02],[4.12,0.87],[4.14,-0.78],[4.17,0.24],[4.19,-1.08],[4.22,-0.17],[4.24,0.57],[4.27,-0.57],[4.29,1.14],[4.32,-0.07],[4.34,-0.34],[4.37,0.38],[4.39,-1.18],[4.42,0.73],[4.44,-0.69],[4.47,0.12],[4.49,-0.23],[4.52,0.92],[4.54,-0.94],[4.57,0.47],[4.59,-0.13],[4.62,-0.47],[4.64,0.03],[4.67,-1.43],[4.69,0.63],[4.72,-0.77],[4.74,0.26],[4.77,-0.37],[4.79,0.83],[4.82,-0.03],[4.84,-1.03],[4.87,0.42],[4.89,-0.56],[4.92,0.16],[4.94,-0.88],[4.97,0.72],[5.00,-0.29],[5.03,0.37],[5.06,-1.24],[5.09,-0.04],[5.12,-0.64],[5.15,0.58],[5.19,-0.44],[5.23,0.17],[5.28,-0.93],[5.33,-0.14],[5.39,0.46],[5.43,-0.53],
  [3.09,0.21],[3.14,-0.31],[3.17,0.37],[3.21,-0.62],[3.24,-0.09],[3.29,0.51],[3.32,-0.43],[3.34,0.09],[3.39,-0.78],[3.42,0.59],[3.44,-0.21],[3.47,0.26],[3.49,-0.52],[3.52,-0.06],[3.54,0.68],[3.57,-0.73],[3.59,0.11],[3.62,-0.31],[3.64,0.39],[3.67,-0.93],[3.69,-0.03],[3.72,0.22],[3.74,-0.62],[3.77,0.56],[3.79,-0.19],[3.82,0.34],[3.84,-0.77],[3.87,0.02],[3.89,-0.42],[3.92,0.49],[3.94,-0.24],[3.97,0.17],[3.99,-0.63],[4.02,0.61],[4.04,-0.94],[4.07,-0.02],[4.09,-0.49],[4.12,0.21],[4.14,-0.21],[4.17,0.67],[4.19,-0.86],[4.22,0.03],[4.24,-0.41],[4.27,0.29],[4.29,-0.69],[4.32,0.47],[4.34,-0.16],[4.37,0.13],[4.39,-0.56],[4.42,-0.03],[4.44,0.36],[4.47,-0.76],[4.49,0.04],[4.52,-0.32],[4.54,0.52],[4.57,-0.59],[4.59,0.17],[4.62,-0.11],[4.64,-0.83],[4.67,0.34],[4.69,-0.42],[4.72,0.09],[4.74,-0.24],[4.77,-0.62],[4.79,0.23],[4.82,-0.12],
  [3.41,-0.02],[3.44,-0.36],[3.49,0.31],[3.52,-0.24],[3.55,0.14],[3.59,-0.59],[3.62,-0.02],[3.65,0.43],[3.69,-0.48],[3.72,0.09],[3.75,-0.21],[3.79,0.28],[3.82,-0.67],[3.85,-0.07],[3.89,0.21],[3.92,-0.34],[3.96,0.06],[3.99,-0.53],[4.02,0.37],[4.06,-0.22],[4.09,0.16],[4.12,-0.64],[4.16,-0.12],[4.19,0.33],[4.22,-0.41],[4.26,0.01],[4.29,-0.26],[4.32,0.22],[4.36,-0.57],[4.39,0.04],[4.42,-0.31],[4.46,0.26],[4.49,-0.04],[4.52,-0.49],[3.38,-0.18],[4.55,-0.16]];

const colors = ["#2f7fd9", "#e85a1c"];

document.addEventListener("DOMContentLoaded", function () {
    drawChart();
});

function drawChart() {
    const width = 843, height = 611;
    const left = 109, right = 803, top = 69, bottom = 512;

    const svg = d3.select("#chart")
        .append("svg")
        .attr("width", width)
        .attr("height", height);

    svg.append("rect")
        .attr("width", width)
        .attr("height", height)
        .attr("fill", "#1e2029");

    const x = d3.scaleLinear().domain([-4.455, 7.699]).range([left, right]);
    const y = d3.scaleLinear().domain([-4.133, 3.62]).range([bottom, top]);

    // grid
    svg.append("g").selectAll("line")
        .data(xTicks)
        .enter().append("line")
        .attr("x1", d => x(d)).attr("x2", d => x(d))
        .attr("y1", top).attr("y2", bottom)
        .attr("stroke", "#363945")
        .attr("stroke-width", 1.1);

    svg.append("g").selectAll("line")
        .data(yTicks)
        .enter().append("line")
        .attr("x1", left).attr("x2", right)
        .attr("y1", d => y(d)).attr("y2", d => y(d))
        .attr("stroke", "#363945")
        .attr("stroke-width", 1.1);

    // axes (labels only, spines drawn below)
    const xAxis = svg.append("g")
        .attr("transform", `translate(0,${bottom})`)
        .call(d3.axisBottom(x).tickValues(xTicks).tickSize(0).tickPadding(10));
    const yAxis = svg.append("g")
        .attr("transform", `translate(${left},0)`)
        .call(d3.axisLeft(y).tickValues(yTicks).tickSize(0).tickPadding(10));

    [xAxis, yAxis].forEach(g => {
        g.select(".domain").remove();
        g.selectAll("text")
            .attr("fill", "#a9aeba")
            .style("font-size", "19px")
            .style("font-family", "DejaVu Sans, sans-serif");
    });

    // spines
    svg.append("line")
        .attr("x1", left).attr("x2", left)
        .attr("y1", top).attr("y2", bottom)
        .attr("stroke", "#3b3e4a").attr("stroke-width", 1.3);
    svg.append("line")
        .attr("x1", left).attr("x2", right)
        .attr("y1", bottom).attr("y2", bottom)
        .attr("stroke", "#3b3e4a").attr("stroke-width", 1.3);

    // points
    const series = [
        zeroTail.concat(zeroCore, zeroRing, zeroDense),
        oneTail.concat(oneCore, oneRing, oneDense)
    ];
    series.forEach((pts, i) => {
        svg.append("g").selectAll("circle")
            .data(pts)
            .enter().append("circle")
            .attr("cx", d => x(d[0]))
            .attr("cy", d => y(d[1]))
            .attr("r", 2.4)
            .attr("fill", colors[i])
            .attr("fill-opacity", 0.6);
    });

    // threshold
    svg.append("line")
        .attr("x1", x(threshold)).attr("x2", x(threshold))
        .attr("y1", top).attr("y2", bottom)
        .attr("stroke", "#cfd3db")
        .attr("stroke-width", 1.8)
        .attr("stroke-dasharray", "7,4");

    svg.append("text")
        .attr("x", x(threshold) + 14)
        .attr("y", 111.5)
        .attr("fill", "#a4a9b5")
        .style("font-size", "19.5px")
        .text("threshold");

    // legend
    const legend = svg.append("g");
    seriesNames.forEach((name, i) => {
        legend.append("circle")
            .attr("cx", 147)
            .attr("cy", 98 + i * 29.5)
            .attr("r", 6)
            .attr("fill", colors[i])
            .attr("fill-opacity", 0.6);
        legend.append("text")
            .attr("x", 183)
            .attr("y", 103 + i * 29.5)
            .attr("fill", "#e4e5ea")
            .style("font-size", "19.5px")
            .text(name);
    });

    // title and axis labels
    svg.append("text")
        .attr("x", 109)
        .attr("y", 57)
        .attr("fill", "#e8e8ec")
        .style("font-size", "22px")
        .text(title);

    svg.append("text")
        .attr("x", (left + right) / 2)
        .attr("y", 565)
        .attr("text-anchor", "middle")
        .attr("fill", "#a3a8b4")
        .style("font-size", "21px")
        .text("I (arb.)");

    svg.append("text")
        .attr("transform", `translate(58,${(top + bottom) / 2}) rotate(-90)`)
        .attr("text-anchor", "middle")
        .attr("fill", "#a3a8b4")
        .style("font-size", "21px")
        .text("Q (arb.)");
}
</script>
</body>
</html>
